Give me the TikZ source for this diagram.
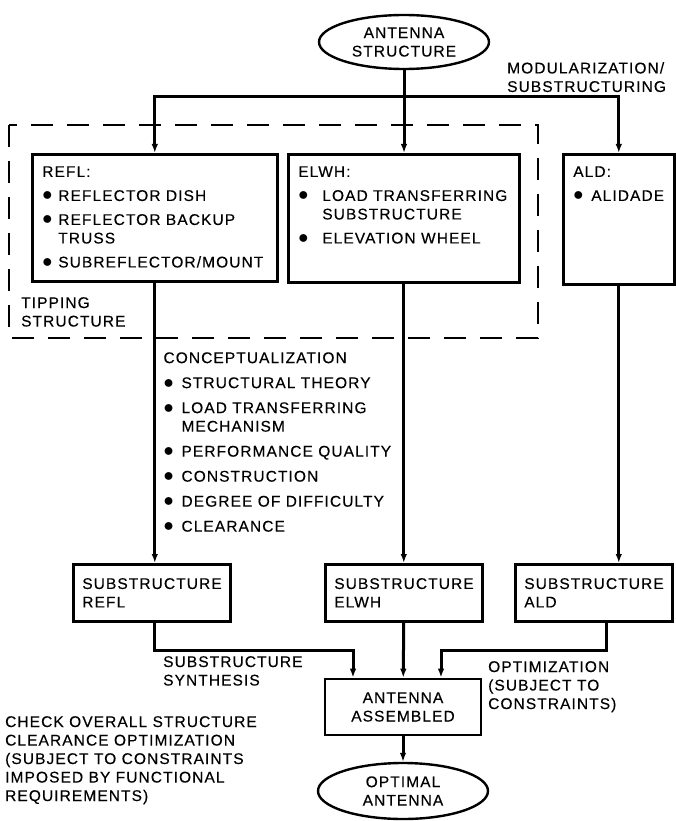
\documentclass[tikz,border=0pt]{standalone}
\usepackage{fontspec}
\setmainfont{Liberation Sans}[LetterSpace=7, FakeBold=0.3]
\usetikzlibrary{positioning, arrows.meta, shapes.geometric}
\tikzset{
block/.style={
  draw,
  rectangle,
  line width=2.6pt,
  inner xsep=10pt, inner ysep=12pt, align=left
  },
oval/.style={
  draw, ellipse, line width=2.4pt, inner sep=0pt, align=center,
  minimum width=170pt, minimum height=54pt
  },
note/.style={anchor=north west, align=left, inner sep=0pt},
link/.style={line width=3pt},
line/.style={-{Latex[length=9pt,width=6.5pt]}, line width=3pt},
tipping/.style={dash pattern=on 22pt off 14pt, line width=2.6pt}
}
\newcommand{\bul}[1][16pt]{\makebox[#1][l]{\scalebox{1.4}{$\bullet$}}}
\newcommand{\ind}[1][16pt]{\hspace*{#1}}

\begin{document}
\begin{tikzpicture}[x=1pt, y=-1pt, font=\fontsize{15.5}{18.5}\selectfont]
\useasboundingbox (0,0) rectangle (675,821);
\node[oval] (struct) at (404,42) {ANTENNA\\STRUCTURE};
\node[note] (modlabel) at (507,62) {MODULARIZATION/\\SUBSTRUCTURING};
\coordinate (bus) at (404,97);

\draw[tipping] (9,125) rectangle (538,338);
\node[block, anchor=north west] (refl) at (31,153) {\parbox[c][103pt][t]{225pt}{%
  REFL:\\[5.5pt]
  \bul REFLECTOR DISH\\[5.5pt]
  \bul REFLECTOR BACKUP\\
  \ind TRUSS\\[5.5pt]
  \bul SUBREFLECTOR/MOUNT}};
\node[block, anchor=north west] (elwh) at (287,153) {\parbox[c][104pt][t]{211pt}{%
  ELWH:\\[5.5pt]
  \bul[24pt]LOAD TRANSFERRING\\
  \ind[24pt]SUBSTRUCTURE\\[5.5pt]
  \bul[24pt]ELEVATION WHEEL}};
\node[block, anchor=north west] (ald) at (562,153) {\parbox[c][106pt][t]{91pt}{%
  ALD:\\[5.5pt]
  \bul[18pt]\mbox{ALIDADE}}};
\node[note] (tiplabel) at (21,297) {TIPPING\\STRUCTURE};

\node[note, below right=69.5pt and 8.5pt of refl.south] (concept) {%
  CONCEPTUALIZATION\\[6.5pt]
  \bul[18pt]STRUCTURAL THEORY\\[6.5pt]
  \bul[18pt]LOAD TRANSFERRING\\
  \ind[18pt]MECHANISM\\[6.5pt]
  \bul[18pt]PERFORMANCE QUALITY\\[6.5pt]
  \bul[18pt]CONSTRUCTION\\[6.5pt]
  \bul[18pt]DEGREE OF DIFFICULTY\\[6.5pt]
  \bul[18pt]CLEARANCE};

\node[block, anchor=north west, inner xsep=9pt, inner ysep=0pt, minimum width=156pt, minimum height=57pt] (subrefl) at (72,563) {SUBSTRUCTURE\\REFL};
\node[block, anchor=north west, inner xsep=9pt, inner ysep=0pt, minimum width=156pt, minimum height=57pt] (subelwh) at (324,563) {SUBSTRUCTURE\\ELWH};
\node[block, anchor=north west, inner xsep=9pt, inner ysep=0pt, minimum width=156pt, minimum height=57pt] (subald) at (514,563) {SUBSTRUCTURE\\ALD};

\node[block, align=center, inner ysep=0pt, minimum width=156pt, minimum height=56pt] (asm) at (403,707) {ANTENNA\\ASSEMBLED};
\node[oval, minimum height=56pt] (opt) at (403,791) {OPTIMAL\\ANTENNA};

\node[note] (synlabel) at (163,656) {SUBSTRUCTURE\\SYNTHESIS};
\node[note] (optlabel) at (488,661) {OPTIMIZATION\\(SUBJECT TO\\CONSTRAINTS)};
\node[note] (checklabel) at (5,716) {CHECK OVERALL STRUCTURE\\CLEARANCE OPTIMIZATION\\(SUBJECT TO CONSTRAINTS\\IMPOSED BY FUNCTIONAL\\REQUIREMENTS)};

% modularization
\draw[link] (struct) -- (bus);
\draw[line] (bus) -| (refl);
\draw[line] (bus) -- (bus |- elwh.north);
\draw[line] (bus) -| (ald);
% conceptualization
\draw[line] (refl) -- (refl.south |- subrefl.north);
\draw[line] (elwh) -- (elwh.south |- subelwh.north);
\draw[line] (ald) -- (ald.south |- subald.north);
% synthesis
\draw[line] (refl.south |- subrefl.south) -- ++(0,28) -| ([xshift=-50pt]asm.north);
\draw[line] (subelwh) -- (asm);
\draw[line] ([xshift=12pt]subald.south) -- ++(0,28) -| ([xshift=38pt]asm.north);
\draw[line] (asm) -- (opt);
\end{tikzpicture}
\end{document}
